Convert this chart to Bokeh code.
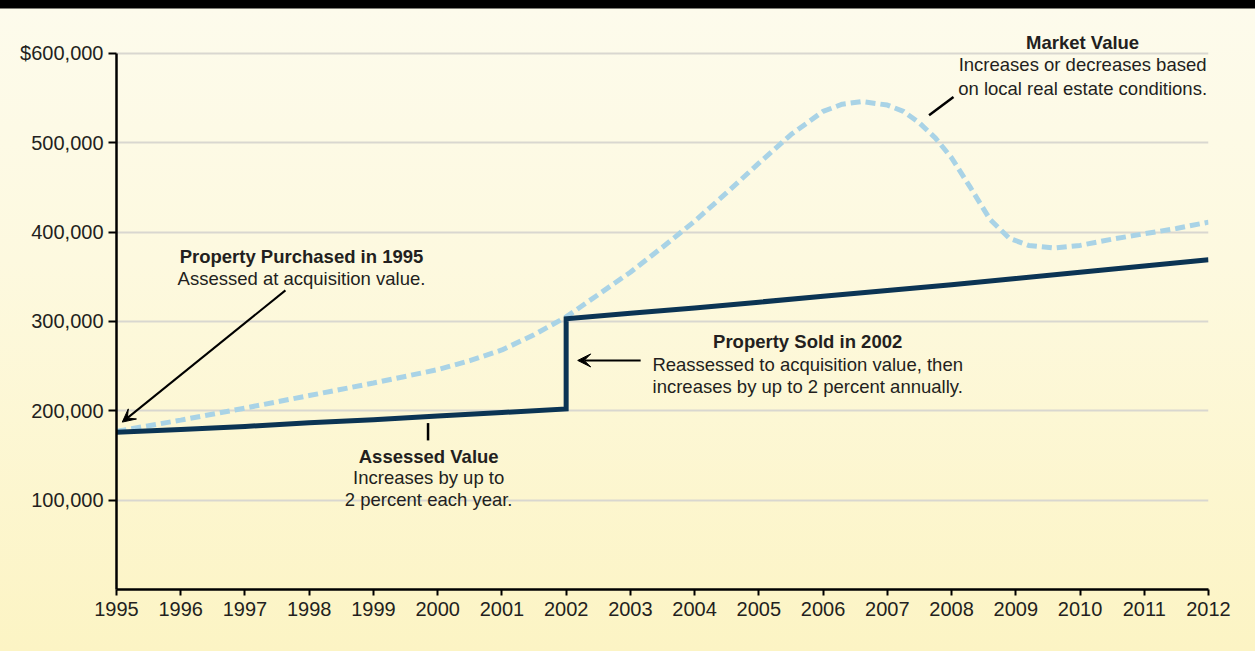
from bokeh.plotting import figure
from bokeh.models import FixedTicker, Label, Arrow, VeeHead
from bokeh.embed import file_html
from bokeh.resources import INLINE

# ---- data ----
assessed_years = [1995, 1996, 1997, 1998, 1999, 2000, 2001, 2002,
                  2002, 2003, 2004, 2005, 2006, 2007, 2008, 2009, 2010, 2011, 2012]
assessed_values = [176000, 179000, 182500, 186500, 190000, 194000, 198000, 202000,
                   303000, 309000, 315000, 321500, 328000, 334500, 341000, 348000,
                   355000, 362000, 369000]

market_years = [1995, 1996, 1997, 1998, 1999, 2000, 2000.5, 2001, 2001.5, 2002, 2002.5,
                2003, 2003.5, 2004, 2004.5, 2005, 2005.5, 2006, 2006.3, 2006.6, 2007,
                2007.25, 2007.5, 2007.75, 2008, 2008.3, 2008.6, 2008.9, 2009.2, 2009.6,
                2010, 2010.5, 2011, 2011.5, 2012]
market_values = [177000, 189500, 203000, 217000, 231000, 246000, 256000, 268000, 285000,
                 305000, 330000, 355000, 383000, 412000, 444000, 477000, 509000, 535000,
                 543000, 546000, 542000, 535000, 522000, 505000, 483000, 449000, 414000,
                 393000, 385000, 382000, 385000, 392000, 398000, 404000, 411000]

y_ticks = [100000, 200000, 300000, 400000, 500000, 600000]
y_tick_labels = ["100,000", "200,000", "300,000", "400,000", "500,000", "$600,000"]
x_ticks = list(range(1995, 2013))

FONT = "Liberation Sans"
TXT = "#231f20"

p = figure(width=1255, height=651, output_backend="svg", toolbar_location=None,
           x_range=(1995, 2012), y_range=(0, 640000),
           min_border_left=116, min_border_right=47, min_border_top=17, min_border_bottom=62)

p.background_fill_alpha = 0
p.border_fill_alpha = 0
p.outline_line_color = None
p.styles = {"background": "linear-gradient(180deg, #000000 0px, #000000 8px, #fdfbec 9px, #fdf9df 40%, #fcf4c4 100%)"}

# axes
p.xaxis.ticker = FixedTicker(ticks=x_ticks)
p.yaxis.ticker = FixedTicker(ticks=y_ticks)
p.yaxis.bounds = (0, 600000)
p.yaxis.major_label_overrides = {t: l for t, l in zip(y_ticks, y_tick_labels)}
for ax in (p.xaxis, p.yaxis):
    ax.axis_line_width = 2.5
    ax.axis_line_color = "black"
    ax.major_tick_line_width = 2
    ax.major_tick_line_color = "black"
    ax.major_tick_in = 0
    ax.minor_tick_line_color = None
    ax.major_label_text_font = FONT
    ax.major_label_text_font_size = "20px"
    ax.major_label_text_color = TXT
p.yaxis.major_tick_out = 8
p.yaxis.major_label_standoff = 5
p.xaxis.major_tick_out = 6
p.xaxis.major_label_standoff = 6

p.xgrid.grid_line_color = None
p.ygrid.grid_line_color = "#d9d7d0"
p.ygrid.grid_line_width = 1.8

# lines
p.line(market_years, market_values, line_color="#a9d3e6", line_width=5,
       line_dash="10 5")
p.line(assessed_years, assessed_values, line_color="#0b3454", line_width=5,
       line_join="miter")

# annotation helpers
def lab(x, y, t, bold=False):
    p.add_layout(Label(x=x, y=y, text=t, text_align="center", text_baseline="middle",
                       text_font=FONT, text_font_size="18.5px", text_color=TXT,
                       text_font_style="bold" if bold else "normal"))

lab(1997.88, 372800, "Property Purchased in 1995", True)
lab(1997.88, 348100, "Assessed at acquisition value.")

lab(1999.86, 148900, "Assessed Value", True)
lab(1999.86, 125400, "Increases by up to")
lab(1999.86, 100700, "2 percent each year.")

lab(2005.76, 277600, "Property Sold in 2002", True)
lab(2005.76, 251900, "Reassessed to acquisition value, then")
lab(2005.76, 227200, "increases by up to 2 percent annually.")

lab(2010.04, 612300, "Market Value", True)
lab(2010.04, 587700, "Increases or decreases based")
lab(2010.04, 560800, "on local real estate conditions.")

head = lambda: VeeHead(size=13, fill_color="black", line_color="black", line_width=1)
p.add_layout(Arrow(x_start=1997.63, y_start=334700, x_end=1995.09, y_end=187300,
                   line_width=2, line_color="black", end=head()))
p.add_layout(Arrow(x_start=2003.16, y_start=256300, x_end=2002.18, y_end=256300,
                   line_width=2, line_color="black", end=head()))
p.add_layout(Arrow(x_start=1999.85, y_start=186200, x_end=1999.85, y_end=166800,
                   line_width=2.5, line_color="black", end=None))
p.add_layout(Arrow(x_start=2008.03, y_start=551100, x_end=2007.65, y_end=530600,
                   line_width=2.5, line_color="black", end=None))

open("out.html", "w").write(file_html(p, INLINE))
